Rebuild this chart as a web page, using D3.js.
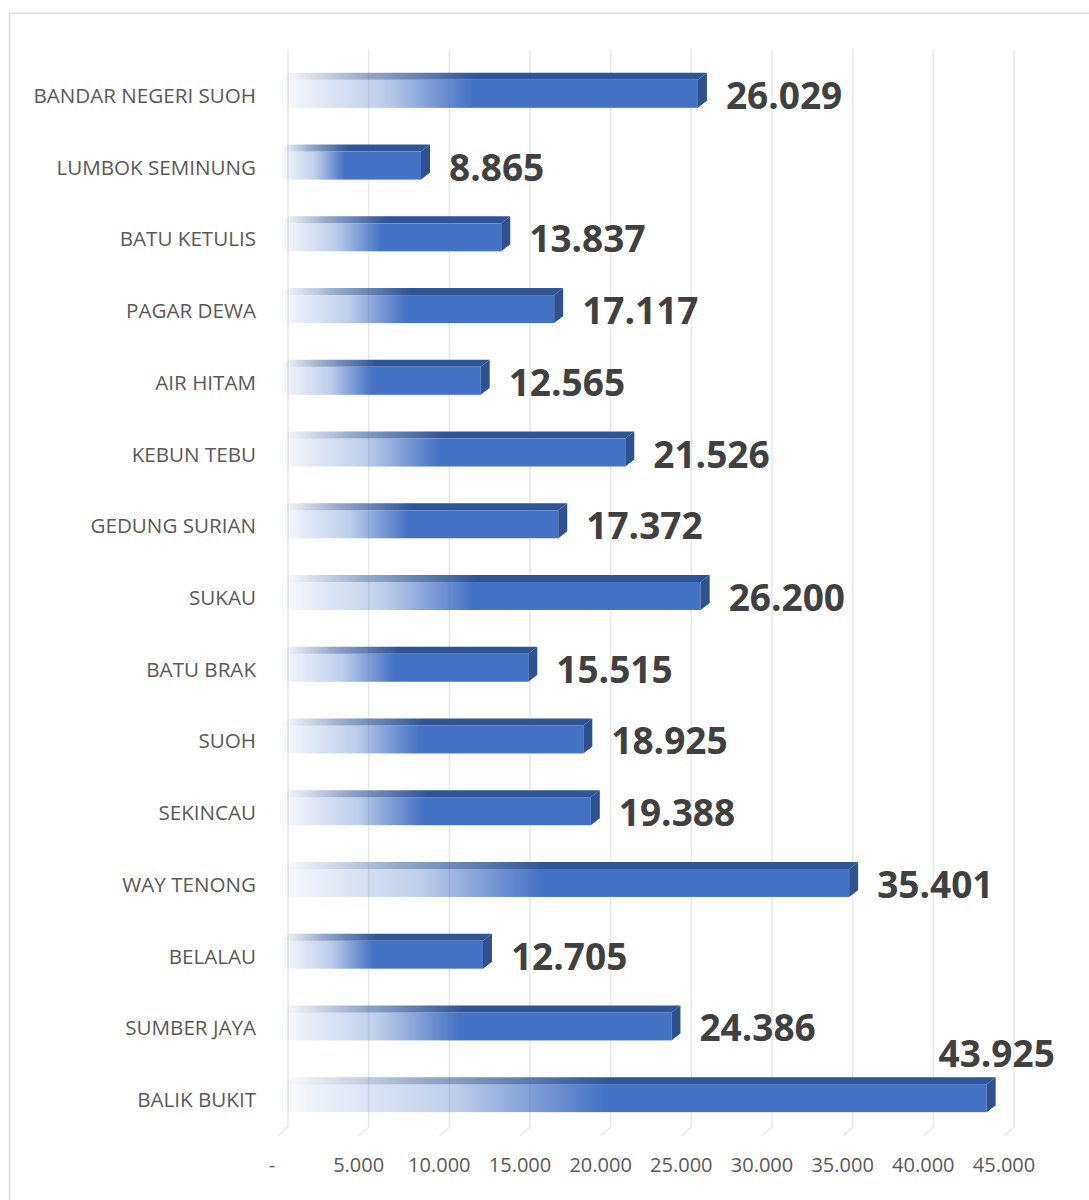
<!DOCTYPE html>
<html><head><meta charset="utf-8">
<script src="https://cdn.jsdelivr.net/npm/d3@7"></script>
<style>body{margin:0;background:#fff}</style>
</head><body>
<svg id="c" width="1089" height="1200"></svg>
<script>
const categories = ["BANDAR NEGERI SUOH","LUMBOK SEMINUNG","BATU KETULIS","PAGAR DEWA","AIR HITAM","KEBUN TEBU","GEDUNG SURIAN","SUKAU","BATU BRAK","SUOH","SEKINCAU","WAY TENONG","BELALAU","SUMBER JAYA","BALIK BUKIT"];
const values = [26029,8865,13837,17117,12565,21526,17372,26200,15515,18925,19388,35401,12705,24386,43925];
const valueLabels = ["26.029","8.865","13.837","17.117","12.565","21.526","17.372","26.200","15.515","18.925","19.388","35.401","12.705","24.386","43.925"];
const tickValues = [0,5000,10000,15000,20000,25000,30000,35000,40000,45000];
const tickLabels = ["-","5.000","10.000","15.000","20.000","25.000","30.000","35.000","40.000","45.000"];

const svg = d3.select("#c");
const x = d3.scaleLinear().domain([0,45000]).range([288,1014]);
const y = d3.scalePoint().domain(categories).range([59,1135]).padding(0.5);

// border
svg.append("rect").attr("x",9.5).attr("y",13.5).attr("width",1100).attr("height",1200)
  .attr("fill","none").attr("stroke","#d9d9d9").attr("stroke-width",1.5);

const defs = svg.append("defs");
const gFront = defs.append("linearGradient").attr("id","gf").attr("x1","0").attr("x2","1").attr("y1","0").attr("y2","0");
gFront.append("stop").attr("offset","0").attr("stop-color","#4472c4").attr("stop-opacity",0.0);
gFront.append("stop").attr("offset","0.04").attr("stop-color","#4472c4").attr("stop-opacity",0.08);
gFront.append("stop").attr("offset","0.25").attr("stop-color","#4472c4").attr("stop-opacity",0.35);
gFront.append("stop").attr("offset","0.46").attr("stop-color","#4472c4").attr("stop-opacity",1);
gFront.append("stop").attr("offset","1").attr("stop-color","#4472c4").attr("stop-opacity",1);
const gTop = defs.append("linearGradient").attr("id","gt").attr("x1","0").attr("x2","1").attr("y1","0").attr("y2","0");
gTop.append("stop").attr("offset","0").attr("stop-color","#2f5597").attr("stop-opacity",0.0);
gTop.append("stop").attr("offset","0.2").attr("stop-color","#2f5597").attr("stop-opacity",0.5);
gTop.append("stop").attr("offset","0.46").attr("stop-color","#2f5597").attr("stop-opacity",1);
gTop.append("stop").attr("offset","1").attr("stop-color","#2f5597").attr("stop-opacity",1);

// gridlines with floor bend
const grid = svg.append("g");
tickValues.forEach(v=>{
  const gx = x(v);
  grid.append("path").attr("d",`M${gx},50 L${gx},1127 L${gx-10},1136`)
    .attr("fill","none").attr("stroke","#e8e8e8").attr("stroke-width",1.5);
});

// tick labels
svg.append("g").selectAll("text").data(tickValues).join("text")
  .attr("x",(d,i)=> i===0 ? x(d)-16 : x(d)-10)
  .attr("y",1172)
  .attr("text-anchor","middle")
  .attr("font-family","Open Sans, sans-serif").attr("font-size",20).attr("fill","#595959")
  .text((d,i)=>tickLabels[i]);

// category labels
svg.append("g").selectAll("text").data(categories).join("text")
  .attr("x",256).attr("y",d=>y(d)+8)
  .attr("text-anchor","end")
  .attr("font-family","Open Sans, sans-serif").attr("font-size",20.6).attr("fill","#595959")
  .text(d=>d);

// bars
const H = 28, DX = 9, DY = 7;
const bars = svg.append("g");
categories.forEach((c,i)=>{
  const cy = y(c) - 1;
  const top = cy - H/2, bot = cy + H/2;
  const x0 = x(0) - 8, xe = x(values[i]) - 10;
  const g = bars.append("g");
  // top face
  g.append("path").attr("d",`M${x0},${top} L${xe},${top} L${xe+DX},${top-DY} L${x0+DX},${top-DY} Z`)
    .attr("fill","url(#gt)");
  // front face
  g.append("rect").attr("x",x0).attr("y",top).attr("width",xe-x0).attr("height",H).attr("fill","url(#gf)");
  // right face
  g.append("path").attr("d",`M${xe},${top} L${xe+DX},${top-DY} L${xe+DX},${bot-DY} L${xe},${bot} Z`)
    .attr("fill","#2f528f");
});

// value labels
svg.append("g").selectAll("text").data(categories).join("text")
  .attr("font-family","Open Sans, sans-serif").attr("font-weight","bold").attr("font-size",37).attr("fill","#404040")
  .text((d,i)=>valueLabels[i])
  .each(function(d,i){
    const t = d3.select(this);
    const xv = x(values[i]);
    const w = this.getComputedTextLength();
    if (xv + 17 + w > 1080) {
      t.attr("x", xv).attr("y", y(d) - 32).attr("text-anchor","middle");
    } else {
      t.attr("x", xv + 18).attr("y", y(d) + 14).attr("text-anchor","start");
    }
  });
</script>
</body></html>
